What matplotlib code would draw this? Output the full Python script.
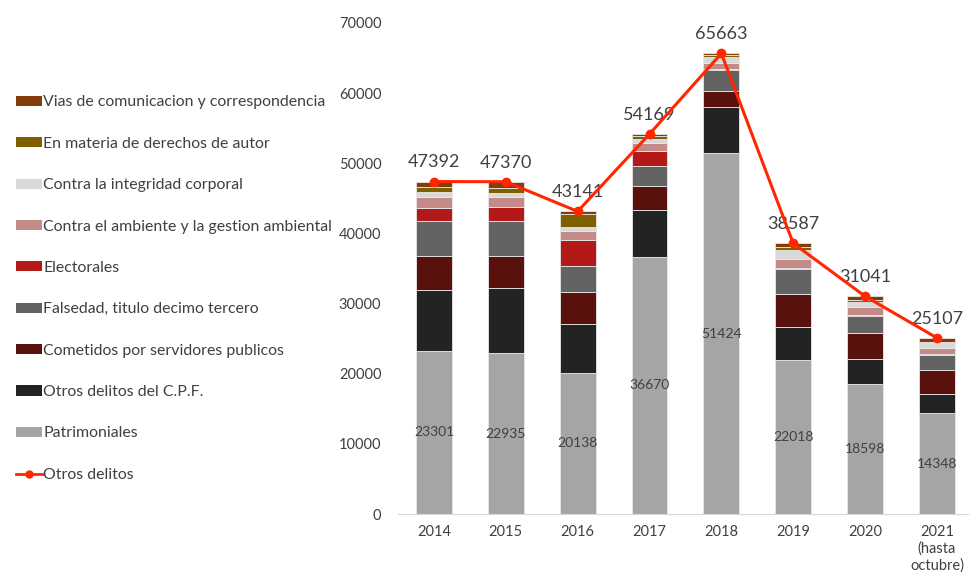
import matplotlib
matplotlib.use("Agg")
import matplotlib.pyplot as plt
from matplotlib.lines import Line2D
from matplotlib.patches import Patch
import numpy as np

plt.rcParams['font.family'] = ['Lato', 'DejaVu Sans']

years = ["2014", "2015", "2016", "2017", "2018", "2019", "2020", "2021\n(hasta\noctubre)"]

patrimoniales = [23301, 22935, 20138, 36670, 51424, 22018, 18598, 14348]
otros_cpf = [8600, 9245, 6900, 6630, 6560, 4600, 3450, 2760]
cometidos = [4890, 4600, 4610, 3510, 2380, 4790, 3800, 3470]
falsedad = [4950, 4950, 3660, 2760, 2940, 3520, 2430, 2090]
electorales = [1940, 2040, 3750, 2180, 190, 190, 140, 190]
ambiente = [1570, 1430, 1290, 1140, 810, 1280, 1090, 850]
integridad = [670, 610, 520, 530, 900, 1240, 760, 620]
autor = [670, 710, 1900, 470, 200, 430, 190, 240]
vias = [800, 850, 370, 280, 263, 517, 580, 537]
otros_delitos = [47392, 47370, 43141, 54169, 65663, 38587, 31041, 25107]

series = [
    ("Patrimoniales", patrimoniales, "#A5A5A5"),
    ("Otros delitos del C.P.F.", otros_cpf, "#222323"),
    ("Cometidos por servidores publicos", cometidos, "#58110C"),
    ("Falsedad, titulo decimo tercero", falsedad, "#636363"),
    ("Electorales", electorales, "#B4191A"),
    ("Contra el ambiente y la gestion ambiental", ambiente, "#C48A87"),
    ("Contra la integridad corporal", integridad, "#D9D9D9"),
    ("En materia de derechos de autor", autor, "#7F6000"),
    ("Vias de comunicacion y correspondencia", vias, "#843C0C"),
]

fig = plt.figure(figsize=(9.7, 5.81), dpi=100)
ax = fig.add_axes([398/970, 1 - 514/581, 1 - 398/970, (514 - 23)/581])

x = np.arange(len(years))
bottom = np.zeros(len(years))
handles = []
for name, vals, col in series:
    ax.bar(x, vals, 0.5, bottom=bottom, color=col, edgecolor="#E8E8E8", linewidth=0.6, zorder=2)
    bottom += np.array(vals)
    handles.append(Patch(facecolor=col, label=name))

for i, v in enumerate(patrimoniales):
    ax.text(x[i], v / 2, str(v), ha="center", va="center", fontsize=10, color="#404040", zorder=3)

ax.plot(x, otros_delitos, color="#FF2600", lw=2.2, marker="o", ms=6, zorder=4)
for i, v in enumerate(otros_delitos):
    ax.annotate(str(v), (x[i], v), xytext=(0, 8), textcoords="offset points",
                ha="center", va="bottom", fontsize=13, color="#404040")

ax.set_ylim(0, 70000)
ax.set_yticks(range(0, 70001, 10000))
ax.set_xlim(-0.5, 7.46)
ax.set_xticks(x)
ax.set_xticklabels(years, fontsize=10.5, color="#404040")
ax.tick_params(axis="y", labelsize=10.5, colors="#404040", length=0, pad=12)
ax.tick_params(axis="x", length=0, pad=8)
for s in ["top", "right", "left"]:
    ax.spines[s].set_visible(False)
ax.spines["bottom"].set_color("#D9D9D9")

leg_handles = handles[::-1] + [Line2D([0], [0], color="#FF2600", lw=2, marker="o", ms=5, label="Otros delitos")]
fig.legend(handles=leg_handles, loc="upper left", bbox_to_anchor=(10/970, 1 - 89/581),
           frameon=False, fontsize=11.4, labelcolor="#404040", handlelength=1.6, handleheight=0.6,
           handletextpad=0.1, labelspacing=1.73, borderaxespad=0)

fig.savefig("out.png", dpi=100)
